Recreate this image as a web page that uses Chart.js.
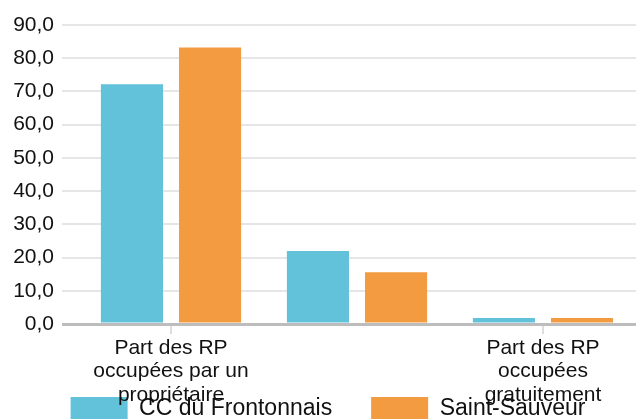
<!DOCTYPE html>
<html>
<head>
<meta charset="utf-8">
<script src="https://cdn.jsdelivr.net/npm/chart.js@4/dist/chart.umd.min.js"></script>
<style>
  html, body { margin: 0; padding: 0; background: #fff; overflow: hidden; }
  #wrap { width: 643px; height: 430px; }
</style>
</head>
<body>
<div id="wrap"><canvas id="c" width="643" height="430"></canvas></div>
<script>
const categories = [
  ['Part des RP', 'occupées par un', 'propriétaire'],
  ['Part des RP', 'occupées par un', 'locataire'],
  ['Part des RP', 'occupées', 'gratuitement']
];
const seriesNames = ['CC du Frontonnais', 'Saint-Sauveur'];
const frontonnais = [72.2, 22.0, 1.8];
const saintSauveur = [83.2, 15.6, 1.8];
const yTicks = [0, 10, 20, 30, 40, 50, 60, 70, 80, 90];

const FONT = 'Liberation Sans, Arial, sans-serif';
const noClip = s => { s._computeLabelArea = () => undefined; };

new Chart(document.getElementById('c'), {
  type: 'bar',
  data: {
    labels: categories,
    datasets: [
      { label: seriesNames[0], data: frontonnais, backgroundColor: '#62c2d9', borderWidth: 0 },
      { label: seriesNames[1], data: saintSauveur, backgroundColor: '#f39b40', borderWidth: 0 }
    ]
  },
  options: {
    responsive: false,
    animation: false,
    devicePixelRatio: 1,
    categoryPercentage: 0.84,
    barPercentage: 0.795,
    layout: { padding: { top: 25, left: 20, right: 7, bottom: 0 } },
    plugins: {
      tooltip: { enabled: false },
      legend: {
        position: 'bottom',
        labels: {
          boxWidth: 57,
          boxHeight: 23,
          padding: 39,
          color: '#111',
          font: { family: FONT, size: 23 }
        }
      }
    },
    scales: {
      x: {
        afterFit: s => { s.height = 34; noClip(s); },
        border: { display: false },
        grid: {
          offset: false,
          drawOnChartArea: false,
          drawTicks: true,
          tickLength: 10,
          color: '#dddddd',
          lineWidth: 2
        },
        ticks: {
          autoSkip: true,
          autoSkipPadding: 60,
          maxRotation: 0,
          minRotation: 0,
          padding: 3,
          color: '#111',
          font: { family: FONT, size: 21, lineHeight: 1.1 }
        }
      },
      y: {
        min: yTicks[0],
        max: yTicks[yTicks.length - 1],
        afterFit: s => { s.width = 58; noClip(s); },
        border: { display: false },
        grid: {
          drawTicks: true,
          tickLength: 16,
          color: ctx => ctx.tick && ctx.tick.value === 0 ? '#bdbdbd' : '#e6e6e6',
          lineWidth: ctx => ctx.tick && ctx.tick.value === 0 ? 3 : 2
        },
        ticks: {
          stepSize: yTicks[1] - yTicks[0],
          padding: 8,
          color: '#111',
          font: { family: FONT, size: 21 },
          callback: v => Number(v).toFixed(1).replace('.', ',')
        }
      }
    }
  }
});
</script>
</body>
</html>
